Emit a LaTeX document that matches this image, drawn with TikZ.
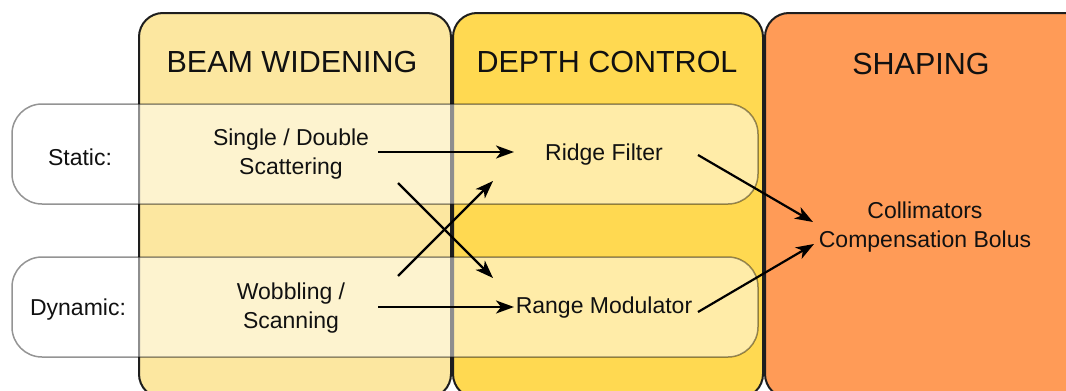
\documentclass[tikz,border=0pt]{standalone}
\usepackage{fontspec}
\setmainfont{Liberation Sans}
\usetikzlibrary{arrows.meta,calc}
\definecolor{colA}{HTML}{FCE7A0}
\definecolor{colB}{HTML}{FFD951}
\definecolor{colC}{HTML}{FF9B57}
\definecolor{colborder}{HTML}{1E1E1E}
\definecolor{txt}{HTML}{111111}
\begin{document}
\begin{tikzpicture}[x=1pt,y=-1pt,
  column/.style={draw=colborder, line width=2pt, rounded corners=24pt},
  rowband/.style={fill=white, fill opacity=0.5, draw=black, draw opacity=0.42, line width=1.5pt, rounded corners=30pt},
  title/.style={font=\fontsize{30.5}{34}\selectfont, text=txt, inner sep=0pt},
  lbl/.style={font=\fontsize{23}{28.5}\selectfont, text=txt, align=center, inner sep=0pt},
  arr/.style={-{Stealth[length=18pt,width=13pt,inset=5pt]}, line width=2.2pt, draw=black}]
\useasboundingbox (0,0) rectangle (1066,391);
\clip (0,0) rectangle (1066,391);
% columns
\draw[column, fill=colA] (139,13) rectangle (451,398);
\draw[column, fill=colB] (453,13) rectangle (763,398);
\draw[column, fill=colC] (765,13) rectangle (1092,398);
% row bands
\path[rowband] (12,104) rectangle (758,204);
\path[rowband] (12,257) rectangle (758,357);
% titles
\node[title] (t1) at (292,62) {BEAM WIDENING};
\node[title] (t2) at (607,62) {DEPTH CONTROL};
\node[title] (t3) at (921,64) {SHAPING};
% row labels
\node[lbl] (st) at (80,157) {Static:};
\node[lbl] (dy) at (78,310) {Dynamic:};
% items
\node[lbl] (sd) at (291,154) {Single / Double\\Scattering};
\node[lbl] (wob) at (291,308) {Wobbling /\\Scanning};
\node[lbl] (rf) at (604,155) {Ridge Filter};
\node[lbl] (rm) at (604,308) {Range Modulator};
\node[lbl] (col) at (925,227) {Collimators\\Compensation Bolus};
% connectors
\draw[arr] ($(sd)+(87,-2)$) -- ($(rf)+(-90,-3)$);
\draw[arr] ($(sd)+(107,29)$) -- ($(rm)+(-111,-30)$);
\draw[arr] ($(wob)+(107,-32)$) -- ($(rf)+(-111,26)$);
\draw[arr] ($(wob)+(87,-1)$) -- ($(rm)+(-90,-1)$);
\draw[arr] ($(rf)+(94,0)$) -- ($(col)+(-112,-5)$);
\draw[arr] ($(rm)+(94,4)$) -- ($(col)+(-111,17)$);
\end{tikzpicture}
\end{document}
